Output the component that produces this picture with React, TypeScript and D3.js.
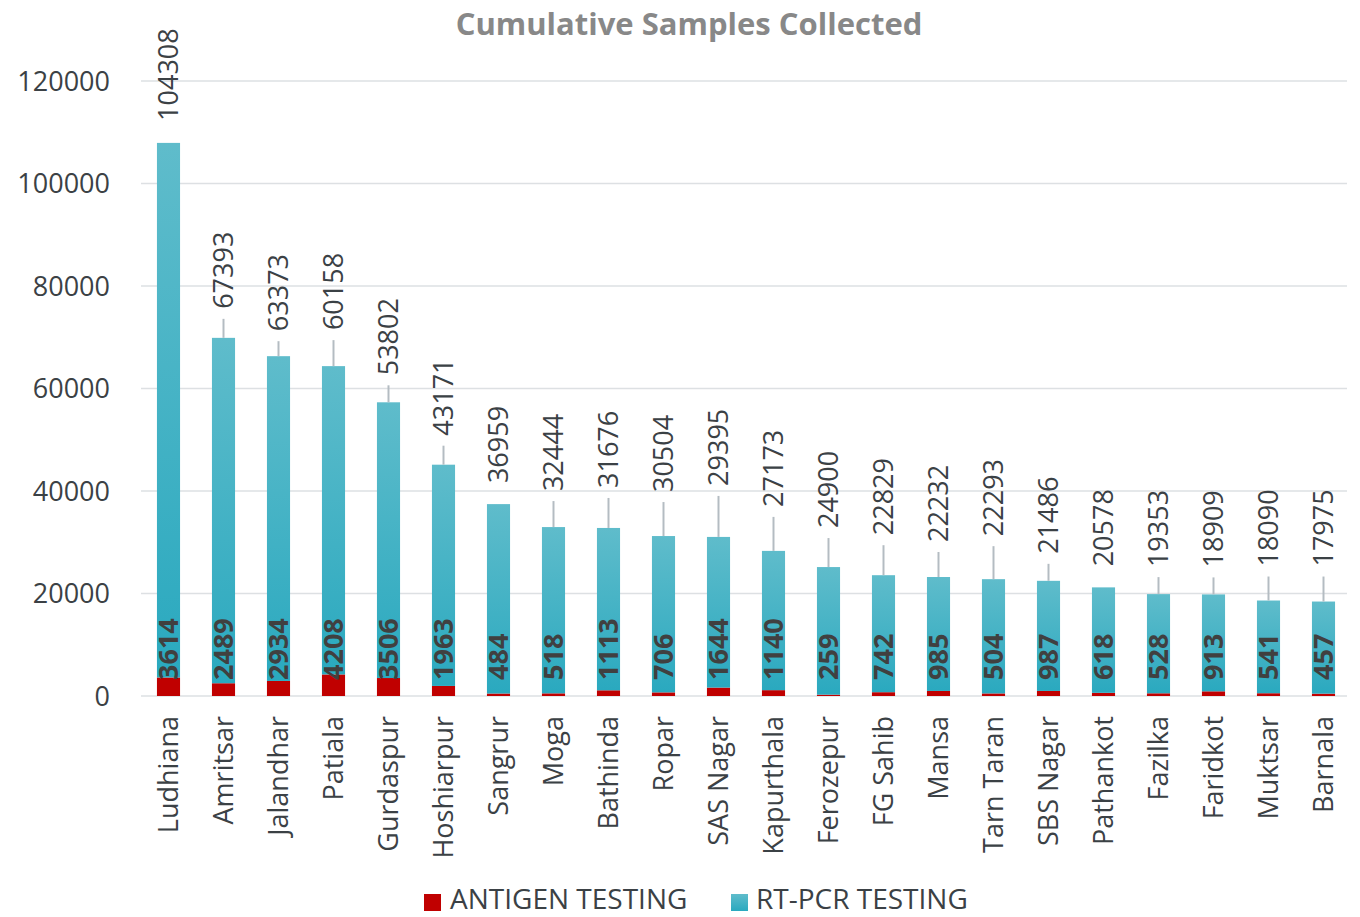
import React from 'react';
import * as d3 from 'd3';

// values
const districts = [
  'Ludhiana', 'Amritsar', 'Jalandhar', 'Patiala', 'Gurdaspur', 'Hoshiarpur', 'Sangrur', 'Moga',
  'Bathinda', 'Ropar', 'SAS Nagar', 'Kapurthala', 'Ferozepur', 'FG Sahib', 'Mansa', 'Tarn Taran',
  'SBS Nagar', 'Pathankot', 'Fazilka', 'Faridkot', 'Muktsar', 'Barnala',
];
const antigen = [3614, 2489, 2934, 4208, 3506, 1963, 484, 518, 1113, 706, 1644, 1140, 259, 742, 985, 504, 987, 618, 528, 913, 541, 457];
const rtpcr = [104308, 67393, 63373, 60158, 53802, 43171, 36959, 32444, 31676, 30504, 29395, 27173, 24900, 22829, 22232, 22293, 21486, 20578, 19353, 18909, 18090, 17975];
const yTicks = [0, 20000, 40000, 60000, 80000, 100000, 120000];

// how far above each bar the value label was dragged (px)
const labelGap = [22, 29, 25, 36, 27, 29, 21, 36, 40, 44, 51, 44, 39, 40, 35, 43, 27, 21, 27, 27, 34, 35];

const W = 1360;
const H = 917;
const margin = {top: 81, right: 9, bottom: 221, left: 141};
const font = '"Open Sans", sans-serif';
const textColor = '#3b4145';

export default function App() {
  const x = d3.scaleBand<string>()
    .domain(districts)
    .range([margin.left, W - margin.right])
    .paddingInner(0.58)
    .paddingOuter(0.29);
  const y = d3.scaleLinear()
    .domain([0, 120000])
    .range([H - margin.bottom, margin.top]);

  const bw = x.bandwidth();

  return (
    <svg width={W} height={H} style={{position: 'absolute', left: 0, top: 0}} fontFamily={font}>
      <defs>
        <linearGradient id="rt" x1="0" y1="0" x2="0" y2="1">
          <stop offset="0%" stopColor="#5fbccb" />
          <stop offset="100%" stopColor="#2aa9bf" />
        </linearGradient>
      </defs>
      <rect width={W} height={H} fill="#fff" />

      <text x={689} y={35} textAnchor="middle" fontSize={31} fontWeight="bold" fill="#888888">
        Cumulative Samples Collected
      </text>

      {/* grid + y axis */}
      {yTicks.map(t => (
        <g key={t}>
          <line x1={margin.left} x2={W - 13} y1={y(t)} y2={y(t)} stroke="#dde0e3" strokeWidth={1.5} />
          <text x={110} y={y(t)} dy="0.36em" textAnchor="end" fontSize={27} fill={textColor}>{t}</text>
        </g>
      ))}

      {districts.map((d, i) => {
        const x0 = x(d)!;
        const cx = x0 + bw / 2;
        const a = antigen[i];
        const r = rtpcr[i];
        const top = y(a + r);
        const lblBottom = top - labelGap[i];
        return (
          <g key={d}>
            <rect x={x0} width={bw} y={y(a)} height={y(0) - y(a)} fill="#c00000" />
            <rect x={x0} width={bw} y={top} height={y(a) - top} fill="url(#rt)" />
            {labelGap[i] >= 24 && (
              <line x1={cx} x2={cx} y1={lblBottom + 10} y2={top} stroke="#b4bcc2" strokeWidth={2} />
            )}
            <text transform={`translate(${cx},${lblBottom}) rotate(-90)`} dy="0.36em"
              fontSize={27} fill={textColor}>{r}</text>
            <text transform={`translate(${cx},${y(0) - 16}) rotate(-90)`} dy="0.36em"
              fontSize={27} fontWeight="bold" fill="#404040">{a}</text>
            <text transform={`translate(${cx},${y(0) + 20}) rotate(-90)`} dy="0.36em"
              textAnchor="end" fontSize={27} fill={textColor}>{d}</text>
          </g>
        );
      })}

      {/* legend */}
      <g fontSize={28} fill={textColor}>
        <rect x={424} y={894} width={17} height={17} fill="#c00000" />
        <text x={450} y={909}>ANTIGEN TESTING</text>
        <rect x={731} y={894} width={17} height={17} fill="url(#rt)" />
        <text x={756} y={909}>RT-PCR TESTING</text>
      </g>
    </svg>
  );
}
